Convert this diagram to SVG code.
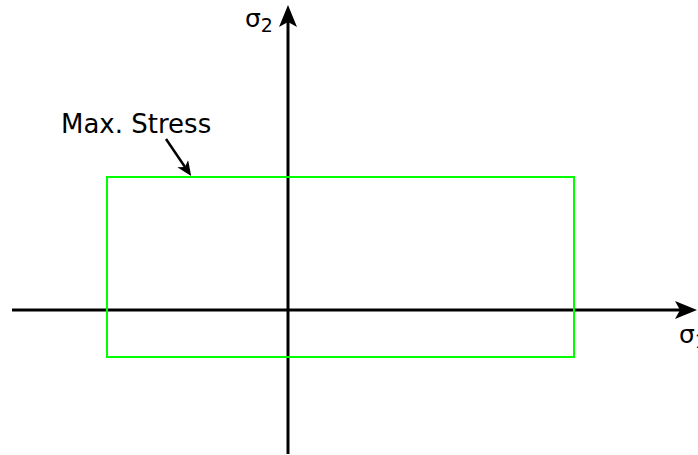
<svg xmlns="http://www.w3.org/2000/svg" width="698" height="455" viewBox="0 0 698 455">
<style>
.ax{stroke:#000;stroke-width:3;fill:none}
.lbl{font-family:"DejaVu Sans",sans-serif;font-size:26px;fill:#000}
.sig{font-family:"DejaVu Sans",sans-serif;font-size:25px;fill:#000}
.sub{font-size:19px}
</style>
<defs>
<marker id="ah" viewBox="0 0 22 18" refX="5" refY="9" markerWidth="22" markerHeight="18" markerUnits="userSpaceOnUse" orient="auto">
<path d="M0,0 L22,9 L0,18 L5,9 Z" fill="#000"/>
</marker>
<marker id="ah2" viewBox="0 0 15 13" refX="4" refY="6.5" markerWidth="15" markerHeight="13" markerUnits="userSpaceOnUse" orient="auto">
<path d="M0,0 L15,6.5 L0,13 L4,6.5 Z" fill="#000"/>
</marker>
</defs>
<g id="connectors">
<line class="ax" x1="12" y1="310" x2="680" y2="310" marker-end="url(#ah)"/>
<line class="ax" x1="288" y1="454" x2="288" y2="22" marker-end="url(#ah)"/>
<line x1="166" y1="139" x2="185" y2="167" stroke="#000" stroke-width="2.5" marker-end="url(#ah2)"/>
</g>
<g id="maxstress">
<rect x="107" y="177" width="467" height="180" fill="none" stroke="#00ff00" stroke-width="2"/>
<text class="lbl" x="61" y="133">Max. Stress</text>
</g>
<g id="sigma2">
<text class="sig" x="245" y="27">σ<tspan class="sub" dy="5">2</tspan></text>
</g>
<g id="sigma1">
<text class="sig" x="679" y="343">σ<tspan class="sub" dy="5">1</tspan></text>
</g>
</svg>
